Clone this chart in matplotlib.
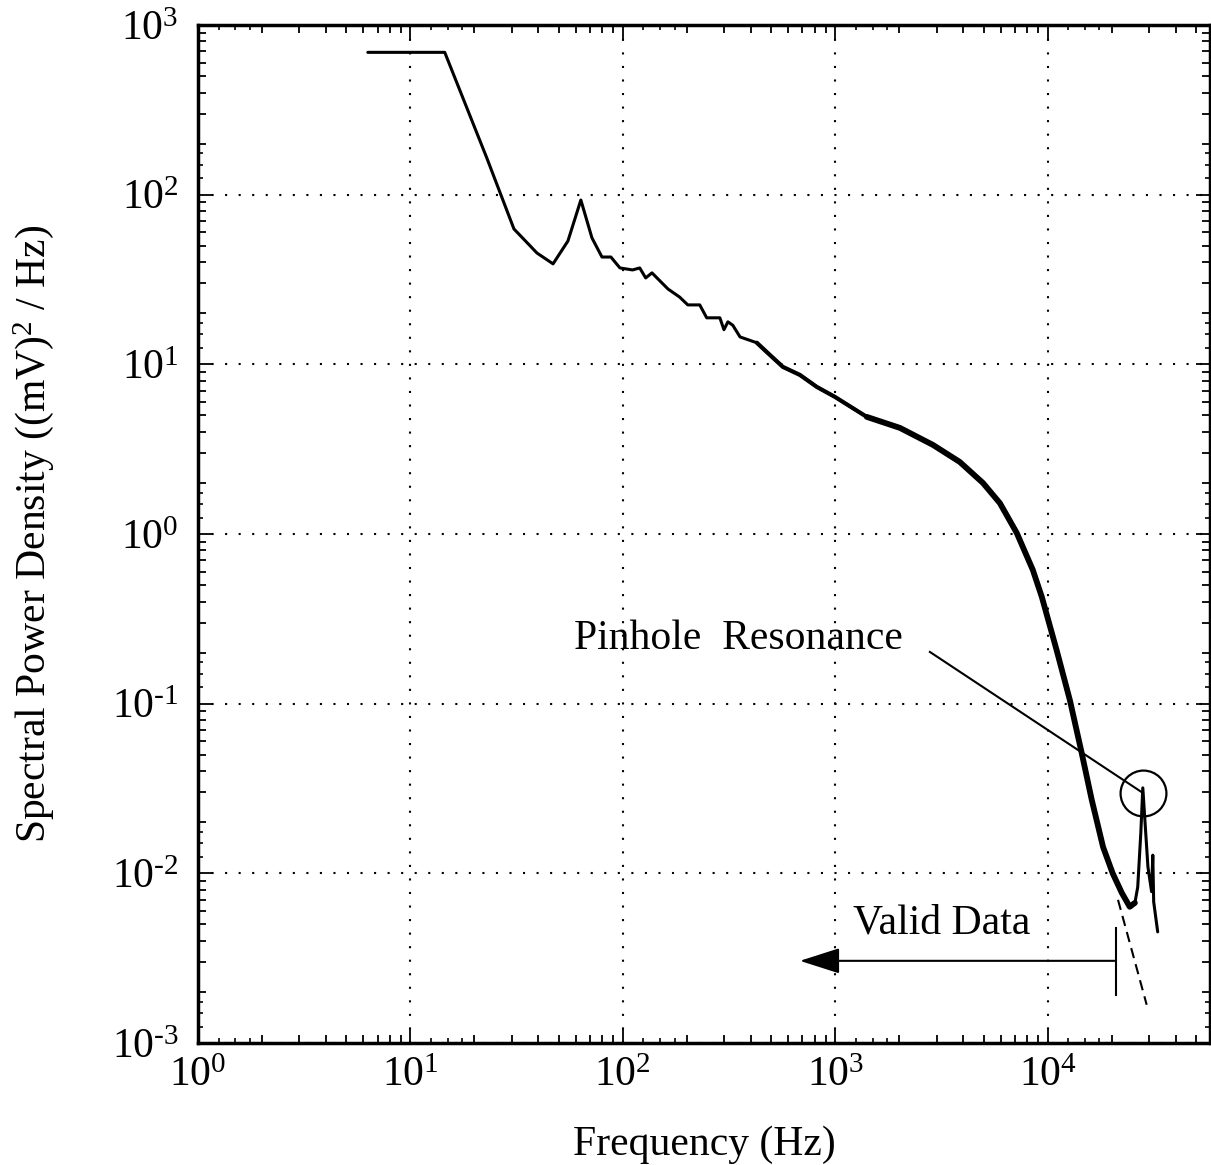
import numpy as np
import matplotlib
matplotlib.use("Agg")
from matplotlib import pyplot as plt
from matplotlib import ticker

plt.rcParams['font.family'] = ['Liberation Serif', 'DejaVu Serif']
plt.rcParams['mathtext.fontset'] = 'custom'
plt.rcParams['mathtext.rm'] = 'Liberation Serif'

# spectrum (Hz, (mV)^2/Hz)
freq = [6.3, 14.5, 22.9, 30.7, 39.4, 46.9, 55.1, 63.4, 71.5, 79.7, 87.8, 96.8,
        111, 120, 128, 137, 163, 185, 202, 230, 248, 286, 299, 312, 329, 356,
        427, 476, 566, 681, 818, 995, 1406, 2014, 2880, 3850, 4950, 5950, 7140,
        8500, 9370, 11000, 12700, 14400, 16100, 18200, 20200, 22300, 24300,
        25700, 26500, 27400, 28000, 28900, 29600, 30800, 31200, 31500, 32900]
psd = [690, 690, 164, 62.8, 45.3, 39.1, 53.3, 93, 55.6, 42.9, 42.9, 37.0,
       36, 37, 32.3, 34.6, 27.8, 24.9, 22.4, 22.4, 18.8, 18.8, 16.0, 17.8, 17.0, 14.5,
       13.4, 11.8, 9.66, 8.66, 7.36, 6.43, 4.90, 4.22, 3.35, 2.66, 2.0, 1.52, 1.015,
       0.614, 0.426, 0.207, 0.105, 0.052, 0.0271, 0.0143, 0.01, 0.00767, 0.00635,
       0.0067, 0.0083, 0.0173, 0.0319, 0.0173, 0.0109, 0.0078, 0.0128, 0.0068, 0.00452]

# extrapolated roll-off (dashed)
extrap_f = [21400, 29200]
extrap_p = [0.00698, 0.00168]

# annotations
res_f, res_p = 28000, 0.0298
leader_f, leader_p = 2786, 0.2018
valid_f = 20900
valid_p = 0.00305
valid_bar = [0.00192, 0.00478]
arrow_tip_f = 681

xticks = [1, 10, 100, 1000, 10000]
xlabels = [r'$\mathregular{10^{0}}$', r'$\mathregular{10^{1}}$', r'$\mathregular{10^{2}}$',
           r'$\mathregular{10^{3}}$', r'$\mathregular{10^{4}}$']
yticks = [1e-3, 1e-2, 1e-1, 1, 10, 100, 1000]
ylabels = [r'$\mathregular{10^{\text{-}3}}$', r'$\mathregular{10^{\text{-}2}}$',
           r'$\mathregular{10^{\text{-}1}}$', r'$\mathregular{10^{0}}$',
           r'$\mathregular{10^{1}}$', r'$\mathregular{10^{2}}$', r'$\mathregular{10^{3}}$']

fig = plt.figure(figsize=(12.11, 11.65), dpi=100)
rect = [198/1211, 122/1165, 1012/1211, 1018/1165]

# tiny ticks at 1.25, 1.5, 1.75 of each decade (separate axes underneath)
ax2 = fig.add_axes(rect, frameon=False)
ax2.set_xscale('log')
ax2.set_yscale('log')
ax2.set_xlim(1, 5.8e4)
ax2.set_ylim(1e-3, 1e3)
ax2.xaxis.set_major_locator(ticker.LogLocator(base=10, subs=[1.25, 1.5, 1.75], numticks=20))
ax2.yaxis.set_major_locator(ticker.LogLocator(base=10, subs=[1.25, 1.5, 1.75], numticks=20))
ax2.xaxis.set_minor_locator(ticker.NullLocator())
ax2.yaxis.set_minor_locator(ticker.NullLocator())
ax2.tick_params(which='both', direction='in', top=True, right=True, length=3.5, width=1.2,
                labelbottom=False, labelleft=False)

ax = fig.add_axes(rect)
ax.patch.set_alpha(0)
ax.set_xscale('log')
ax.set_yscale('log')
ax.set_xlim(1, 5.8e4)
ax.set_ylim(1e-3, 1e3)

f = np.array(freq)
p = np.array(psd)
ax.plot(f, p, color='k', lw=2.2, solid_capstyle='round')
mid = (f >= 400) & (f <= 1500)
ax.plot(f[mid], p[mid], color='k', lw=3.0, solid_capstyle='round')
thick = (f >= 1400) & (f <= 25700)
ax.plot(f[thick], p[thick], color='k', lw=4.2, solid_capstyle='round')

ax.plot(extrap_f, extrap_p, color='k', lw=1.5, linestyle=(0, (5, 3)))

# pinhole resonance
ax.plot([res_f], [res_p], marker='o', ms=33, mfc='none', mec='k', mew=1.6)
ax.plot([leader_f, res_f], [leader_p, res_p], color='k', lw=1.5)
ax.text(348, 0.24, 'Pinhole  Resonance', fontsize=30, ha='center', va='center')

# valid data arrow
ax.annotate('', xy=(arrow_tip_f, valid_p), xytext=(valid_f, valid_p),
            arrowprops=dict(arrowstyle='-|>,head_length=2.5,head_width=0.8',
                            color='k', lw=1.5, shrinkA=0, shrinkB=0))
ax.plot([valid_f, valid_f], valid_bar, color='k', lw=1.5)
ax.text(3170, 0.0051, 'Valid Data', fontsize=30, ha='center', va='center')

ax.set_xticks(xticks)
ax.set_xticklabels(xlabels)
ax.set_yticks(yticks)
ax.set_yticklabels(ylabels)
subs = [2, 3, 4, 5, 6, 7, 8, 9]
ax.xaxis.set_minor_locator(ticker.LogLocator(base=10, subs=subs, numticks=20))
ax.yaxis.set_minor_locator(ticker.LogLocator(base=10, subs=subs, numticks=20))
ax.xaxis.set_minor_formatter(ticker.NullFormatter())
ax.yaxis.set_minor_formatter(ticker.NullFormatter())
ax.tick_params(which='both', direction='in', top=True, right=True, width=1.3, colors='k')
ax.tick_params(which='major', length=10, labelsize=30)
ax.tick_params(which='minor', length=6)
ax.tick_params(axis='x', which='major', pad=10)
ax.tick_params(axis='y', which='major', pad=14)
ax.grid(which='major', color='k', lw=1.5, linestyle=(0, (1, 5.5)))

for s in ax.spines.values():
    s.set_linewidth(2.5)

ax.set_xlabel('Frequency (Hz)', fontsize=30, labelpad=22)
ax.set_ylabel(r'Spectral Power Density ((mV)$\mathregular{^{2}}$ / Hz)', fontsize=30, labelpad=40)

plt.savefig('out.png', dpi=100)
